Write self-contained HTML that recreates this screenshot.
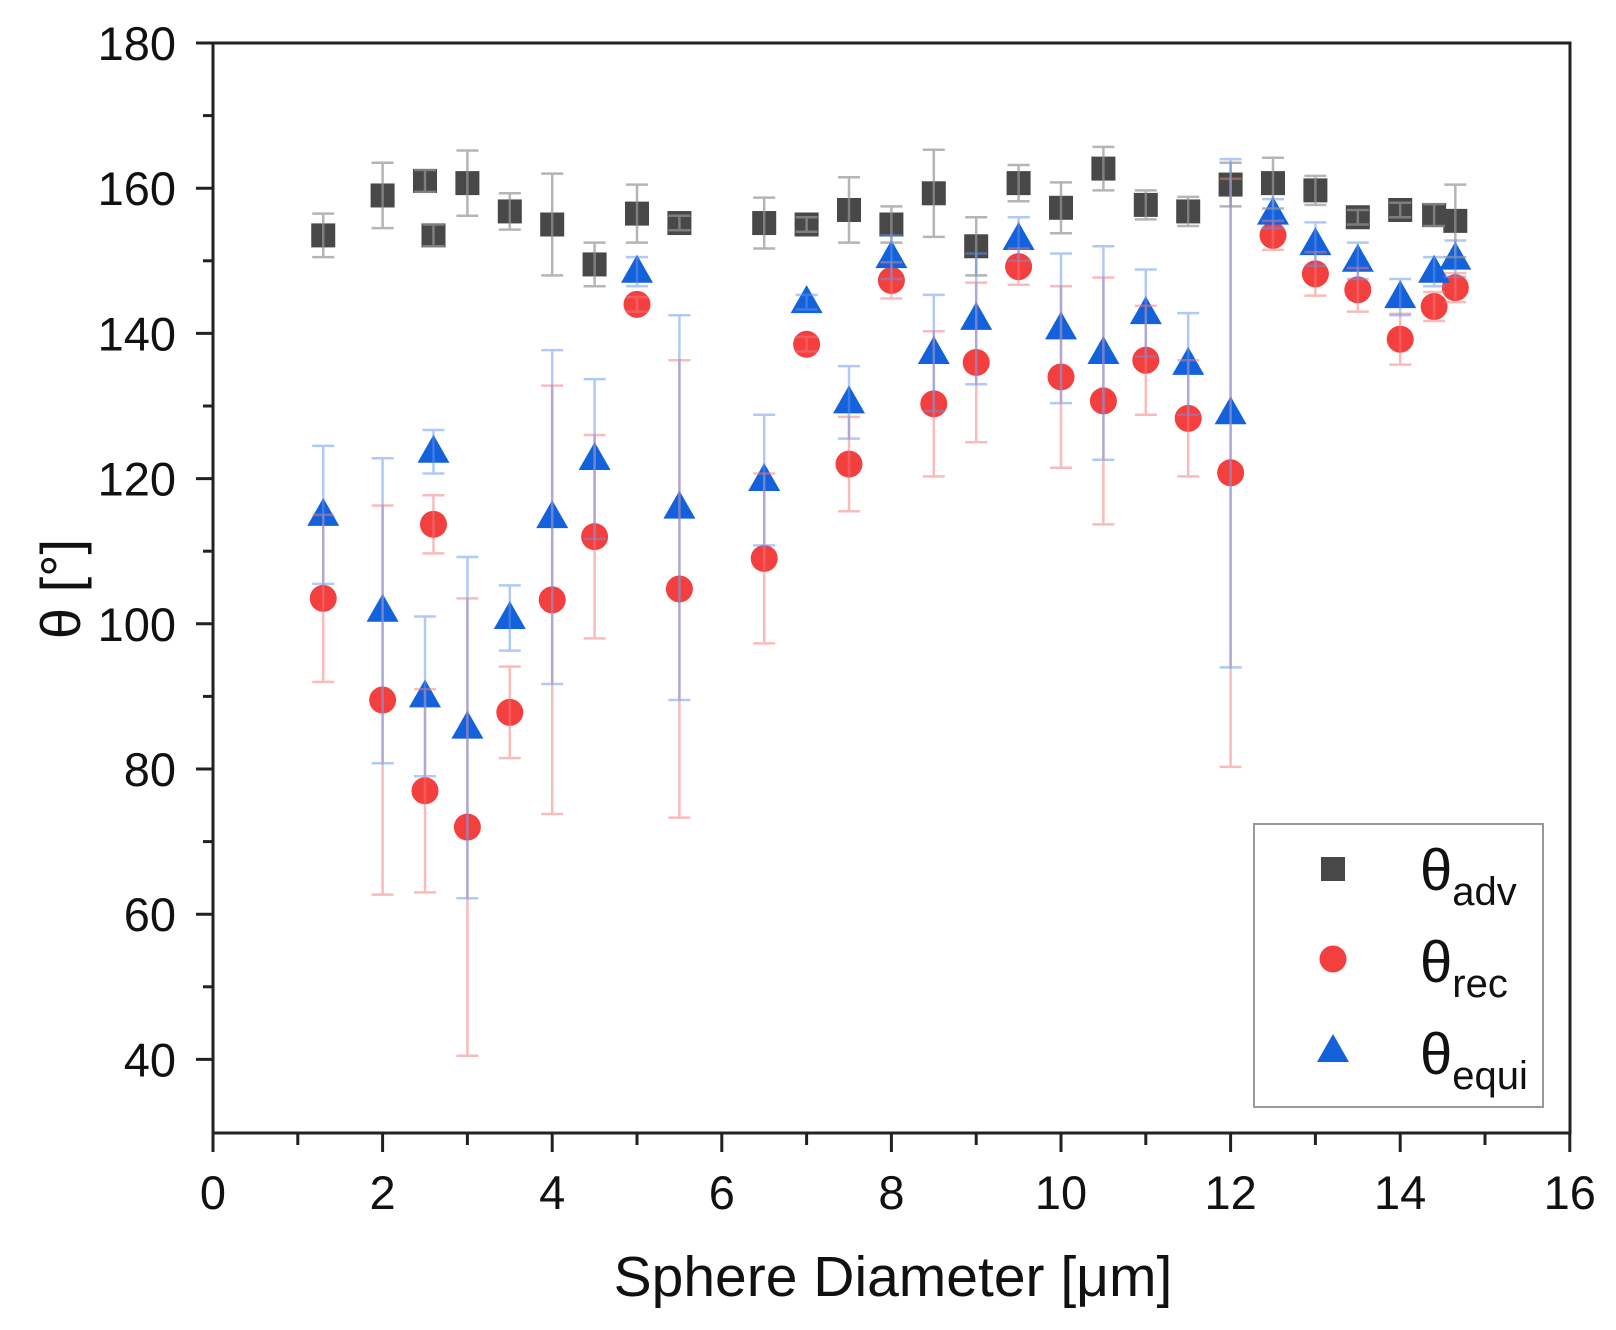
<!DOCTYPE html>
<html><head><meta charset="utf-8"><style>body{margin:0;background:#fff}svg{display:block}text{font-family:"Liberation Sans",sans-serif;fill:#111}</style></head>
<body>
<svg id="s" width="1616" height="1330" xmlns="http://www.w3.org/2000/svg"></svg>
<script>
const s=document.getElementById('s');
const X=v=>213+v*84.8, Y=v=>43+(180-v)*7.26;
let h='';
const adv=[[1.3,153.5,3],[2,159,4.5],[2.5,161,1.5],[2.6,153.5,1.5],[3,160.7,4.5],[3.5,156.8,2.5],[4,155,7],[4.5,149.5,3],[5,156.5,4],[5.5,155.2,1],[6.5,155.2,3.5],[7,155,1],[7.5,157,4.5],[8,155,2.5],[8.5,159.3,6],[9,152,4],[9.5,160.7,2.5],[10,157.3,3.5],[10.5,162.7,3],[11,157.7,2],[11.5,156.8,2],[12,160.5,3],[12.5,160.7,3.5],[13,159.7,2],[13.5,156,1],[14,157,1],[14.4,156.3,1.5],[14.65,155.5,5]];
const rec=[[1.3,103.5,11.5],[2,89.5,26.8],[2.5,77,14],[2.6,113.7,4],[3,72,31.5],[3.5,87.8,6.3],[4,103.3,29.5],[4.5,112,14],[5,144,1],[5.5,104.8,31.5],[6.5,109,11.7],[7,138.5,1],[7.5,122,6.5],[8,147.3,2.5],[8.5,130.3,10],[9,136,11],[9.5,149.2,2.5],[10,134,12.5],[10.5,130.7,17],[11,136.3,7.5],[11.5,128.3,8],[12,120.8,40.5],[12.5,153.5,2],[13,148.2,3],[13.5,146,3],[14,139.2,3.5],[14.4,143.7,2],[14.65,146.3,2]];
const eq=[[1.3,115,9.5],[2,101.8,21],[2.5,90,11],[2.6,123.7,3],[3,85.7,23.5],[3.5,100.8,4.5],[4,114.7,23],[4.5,122.7,11],[5,148.5,2],[5.5,116,26.5],[6.5,119.8,9],[7,144.3,1],[7.5,130.5,5],[8,150.5,3],[8.5,137.3,8],[9,142,9],[9.5,153,3],[10,140.7,10.3],[10.5,137.3,14.7],[11,142.8,6],[11.5,135.8,7],[12,129,35],[12.5,156.5,2],[13,152.3,3],[13.5,150,2.5],[14,145,2.5],[14.4,148.5,2],[14.65,150.3,2.5]];
function eb(d,c){let o='';d.forEach(([x,y,e])=>{const px=X(x),a=Y(y+e),b=Y(y-e);o+=`<path d="M${px} ${a}V${b}M${px-11} ${a}h22M${px-11} ${b}h22" stroke="${c}" stroke-width="2.5" fill="none"/>`});return o;}
adv.forEach(([x,y])=>h+=`<rect x="${X(x)-12}" y="${Y(y)-12}" width="24" height="24" fill="#484848"/>`);
rec.forEach(([x,y])=>h+=`<circle cx="${X(x)}" cy="${Y(y)}" r="13.5" fill="#f43f3f"/>`);
eq.forEach(([x,y])=>{const px=X(x),py=Y(y);h+=`<path d="M${px} ${py-17}L${px+16} ${py+11}H${px-16}Z" fill="#1461dc"/>`});
h+=eb(adv,'rgba(150,150,150,0.7)')+eb(rec,'rgba(245,120,120,0.5)')+eb(eq,'rgba(100,150,235,0.5)');
h+=`<rect x="213" y="43" width="1357" height="1090" fill="none" stroke="#222" stroke-width="3"/>`;
h+=`<line x1="196" y1="43" x2="213" y2="43" stroke="#222" stroke-width="3"/>`;
for(let v=40;v<=170;v+=10){const big=v%20==0;h+=`<line x1="${big?196:203}" y1="${Y(v)}" x2="213" y2="${Y(v)}" stroke="#222" stroke-width="3"/>`;if(big)h+=`<text x="176" y="${Y(v)+17}" font-size="47" text-anchor="end">${v}</text>`;}
h+=`<text x="176" y="${Y(180)+17}" font-size="47" text-anchor="end">180</text>`;
for(let v=0;v<=16;v++){const big=v%2==0;h+=`<line x1="${X(v)}" y1="1133" x2="${X(v)}" y2="${big?1152:1145}" stroke="#222" stroke-width="3"/>`;if(big)h+=`<text x="${X(v)}" y="1209" font-size="47" text-anchor="middle">${v}</text>`;}
h+=`<text x="893" y="1296" font-size="57" text-anchor="middle">Sphere Diameter [μm]</text>`;
h+=`<text transform="translate(80,589) rotate(-90)" font-size="56" text-anchor="middle">θ [°]</text>`;
h+=`<rect x="1254" y="824" width="289" height="283" fill="#fff" stroke="#999" stroke-width="2"/>`;
h+=`<rect x="1321" y="857" width="24" height="24" fill="#484848"/><circle cx="1333" cy="959" r="13.5" fill="#f43f3f"/><path d="M1333 1034L1349 1062H1317Z" fill="#1461dc"/>`;
[['adv',890],['rec',982],['equi',1074]].forEach(([t,y])=>h+=`<text x="1420" y="${y}" font-size="58">θ<tspan font-size="40" dy="15">${t}</tspan></text>`);
s.innerHTML=h;
</script>
</body></html>
